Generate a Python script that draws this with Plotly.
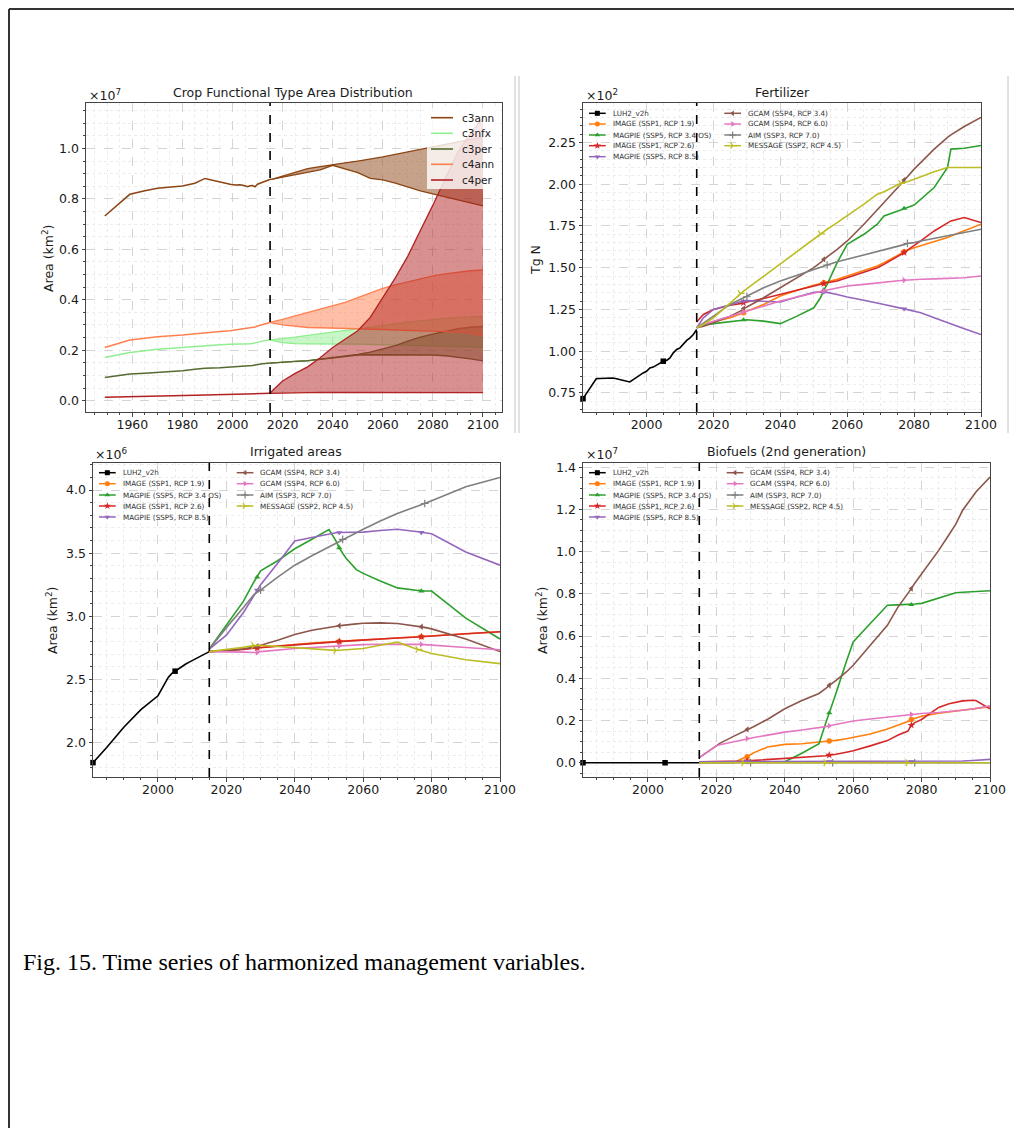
import plotly.graph_objects as go

W, H = 1022, 1136          # browser window (reference pixel frame)
OFF = 8                    # default page margin of the html body
FIG_W, FIG_H = W - 2 * OFF, H - 2 * OFF
R_MARGIN = 16
PAPER_W = FIG_W - R_MARGIN
HARMONIZATION_YEAR = 2015

# ---------------- Panel 1: crop functional types (x1e7 km2) ----------------
CFT_NAMES = ["c3ann", "c3nfx", "c3per", "c4ann", "c4per"]
CFT_COLORS = ["#8B4513", "#90EE90", "#556B2F", "#FF7F50", "#B22222"]
CFT_HIST_YEARS = [1949, 1959, 1965, 1970, 1980, 1985, 1989, 1995, 1999, 2001,
                  2003, 2005, 2006, 2007, 2008, 2009, 2010, 2012, 2015]
C3ANN_HIST = [0.732, 0.818, 0.832, 0.842, 0.851, 0.862, 0.881, 0.866, 0.858, 0.855,
              0.856, 0.852, 0.848, 0.852, 0.853, 0.848, 0.858, 0.866, 0.877]
C3NFX_HIST = [0.171, 0.191, 0.198, 0.204, 0.211, 0.215, 0.220, 0.222, 0.224, 0.224,
              0.225, 0.226, 0.226, 0.226, 0.227, 0.228, 0.231, 0.236, 0.241]
C3PER_HIST = [0.092, 0.106, 0.109, 0.112, 0.119, 0.124, 0.128, 0.130, 0.132, 0.133,
              0.135, 0.136, 0.137, 0.137, 0.139, 0.141, 0.143, 0.146, 0.149]
C4ANN_HIST = [0.211, 0.240, 0.247, 0.253, 0.260, 0.265, 0.270, 0.274, 0.277, 0.280,
              0.283, 0.286, 0.287, 0.288, 0.290, 0.292, 0.296, 0.302, 0.310]
C4PER_HIST = [0.013, 0.016, 0.017, 0.018, 0.020, 0.021, 0.022, 0.023, 0.024, 0.024,
              0.025, 0.025, 0.026, 0.026, 0.026, 0.027, 0.027, 0.028, 0.029]

CFT_FUT_YEARS = [2015, 2016, 2020, 2025, 2030, 2035, 2040, 2045, 2050, 2055,
                 2060, 2065, 2070, 2075, 2080, 2085, 2090, 2095, 2100]
C3ANN_LOW = [0.877, 0.878, 0.886, 0.895, 0.903, 0.915, 0.933, 0.920, 0.904, 0.881,
             0.875, 0.862, 0.846, 0.832, 0.820, 0.808, 0.796, 0.784, 0.772]
C3ANN_HIGH = [0.877, 0.878, 0.890, 0.905, 0.920, 0.928, 0.937, 0.943, 0.950, 0.957,
              0.966, 0.976, 0.986, 0.996, 1.005, 1.015, 1.025, 1.035, 1.046]
C3NFX_LOW = [0.241, 0.238, 0.230, 0.226, 0.225, 0.224, 0.224, 0.224, 0.224, 0.223,
             0.222, 0.221, 0.220, 0.218, 0.217, 0.216, 0.215, 0.213, 0.211]
C3NFX_HIGH = [0.241, 0.242, 0.246, 0.252, 0.259, 0.265, 0.271, 0.278, 0.284, 0.291,
              0.297, 0.304, 0.311, 0.317, 0.322, 0.326, 0.330, 0.332, 0.334]
C3PER_LOW = [0.149, 0.150, 0.153, 0.156, 0.158, 0.164, 0.171, 0.177, 0.181, 0.182,
             0.182, 0.182, 0.182, 0.182, 0.181, 0.178, 0.173, 0.166, 0.158]
C3PER_HIGH = [0.149, 0.150, 0.153, 0.156, 0.159, 0.165, 0.172, 0.178, 0.183, 0.192,
              0.204, 0.218, 0.236, 0.252, 0.264, 0.276, 0.285, 0.291, 0.294]
C4ANN_LOW = [0.310, 0.307, 0.300, 0.294, 0.290, 0.289, 0.288, 0.286, 0.284, 0.283,
             0.282, 0.280, 0.279, 0.277, 0.276, 0.274, 0.272, 0.268, 0.257]
C4ANN_HIGH = [0.310, 0.312, 0.322, 0.336, 0.349, 0.362, 0.376, 0.390, 0.408, 0.427,
              0.445, 0.459, 0.472, 0.485, 0.495, 0.503, 0.510, 0.515, 0.518]
C4PER_LOW = [0.029, 0.029, 0.030, 0.031, 0.032, 0.033, 0.033, 0.033, 0.033, 0.033,
             0.033, 0.033, 0.033, 0.033, 0.033, 0.033, 0.033, 0.032, 0.032]
C4PER_HIGH = [0.029, 0.040, 0.078, 0.108, 0.134, 0.170, 0.211, 0.243, 0.277, 0.330,
              0.409, 0.487, 0.573, 0.671, 0.775, 0.882, 0.985, 1.060, 1.121]

CFT_HIST = [C3ANN_HIST, C3NFX_HIST, C3PER_HIST, C4ANN_HIST, C4PER_HIST]
CFT_LOW = [C3ANN_LOW, C3NFX_LOW, C3PER_LOW, C4ANN_LOW, C4PER_LOW]
CFT_HIGH = [C3ANN_HIGH, C3NFX_HIGH, C3PER_HIGH, C4ANN_HIGH, C4PER_HIGH]

# ---------------- Scenario styling (panels 2-4) ----------------
HIST_NAME = "LUH2_v2h"
SCEN_NAMES = ["IMAGE (SSP1, RCP 1.9)", "MAGPIE (SSP5, RCP 3.4 OS)", "IMAGE (SSP1, RCP 2.6)",
              "MAGPIE (SSP5, RCP 8.5)", "GCAM (SSP4, RCP 3.4)", "GCAM (SSP4, RCP 6.0)",
              "AIM (SSP3, RCP 7.0)", "MESSAGE (SSP2, RCP 4.5)"]
SCEN_COLORS = ["#ff7f0e", "#2ca02c", "#d62728", "#9467bd", "#8c564b", "#e377c2",
               "#7f7f7f", "#bcbd22"]
SCEN_SYMBOLS = ["circle", "triangle-up", "star", "triangle-down", "triangle-left",
                "triangle-right", "cross-thin", "y-right"]
SCEN_MARKER_YEARS = [[2029, 2053, 2077], [2029, 2053, 2077], [2029, 2053, 2077],
                     [2029, 2053, 2077], [2029, 2053, 2077], [2029, 2053, 2077],
                     [2030, 2054, 2078], [2028, 2052, 2076]]
HIST_MARKER_YEARS = [1981, 2005]

# ---------------- Panel 2: fertilizer (x1e2 Tg N) ----------------
FERT_HIST_YEARS = list(range(1981, 2016))
FERT_LUH2 = [0.716, 0.746, 0.776, 0.806, 0.836, 0.837, 0.838, 0.838, 0.840, 0.840,
             0.835, 0.830, 0.825, 0.820, 0.816, 0.830, 0.845, 0.856, 0.870, 0.880,
             0.900, 0.905, 0.915, 0.925, 0.940, 0.945, 0.960, 0.990, 1.010, 1.020,
             1.045, 1.065, 1.080, 1.100, 1.130]
FERT_FUT_YEARS = [2015, 2017, 2020, 2025, 2028, 2029, 2030, 2035, 2040, 2045, 2050,
                  2052, 2053, 2054, 2057, 2060, 2065, 2069, 2071, 2076, 2077, 2078,
                  2080, 2082, 2086, 2090, 2091, 2095, 2100]
FERT_IMAGE19 = [1.14, 1.155, 1.175, 1.20, 1.22, 1.23, 1.24, 1.28, 1.33, 1.365, 1.395,
                1.405, 1.41, 1.415, 1.43, 1.45, 1.485, 1.51, 1.53, 1.585, 1.595, 1.605,
                1.62, 1.632, 1.655, 1.68, 1.69, 1.72, 1.76]
FERT_MAGPIE34 = [1.14, 1.155, 1.165, 1.175, 1.185, 1.187, 1.188, 1.18, 1.165, 1.21, 1.26,
                 1.32, 1.366, 1.40, 1.53, 1.64, 1.70, 1.76, 1.81, 1.845, 1.855, 1.86,
                 1.875, 1.91, 1.98, 2.10, 2.21, 2.215, 2.232]
FERT_IMAGE26 = [1.175, 1.22, 1.25, 1.275, 1.285, 1.29, 1.295, 1.315, 1.34, 1.365, 1.39,
                1.40, 1.405, 1.41, 1.42, 1.44, 1.475, 1.50, 1.52, 1.575, 1.59, 1.605,
                1.63, 1.66, 1.72, 1.77, 1.78, 1.80, 1.77]
FERT_MAGPIE85 = [1.14, 1.20, 1.25, 1.28, 1.295, 1.30, 1.303, 1.30, 1.295, 1.325, 1.352,
                 1.355, 1.355, 1.352, 1.34, 1.325, 1.305, 1.29, 1.28, 1.258, 1.254, 1.25,
                 1.24, 1.23, 1.20, 1.17, 1.163, 1.135, 1.10]
FERT_GCAM34 = [1.14, 1.15, 1.17, 1.21, 1.24, 1.255, 1.265, 1.32, 1.38, 1.435, 1.50,
               1.53, 1.55, 1.565, 1.61, 1.66, 1.76, 1.85, 1.89, 2.00, 2.025, 2.045,
               2.09, 2.13, 2.21, 2.28, 2.295, 2.345, 2.40]
FERT_GCAM60 = [1.14, 1.16, 1.18, 1.21, 1.23, 1.236, 1.24, 1.27, 1.30, 1.325, 1.35,
               1.357, 1.362, 1.366, 1.378, 1.39, 1.40, 1.41, 1.415, 1.423, 1.425, 1.427,
               1.43, 1.431, 1.433, 1.435, 1.436, 1.44, 1.45]
FERT_AIM = [1.14, 1.17, 1.21, 1.28, 1.31, 1.32, 1.326, 1.38, 1.42, 1.455, 1.49,
            1.505, 1.51, 1.516, 1.535, 1.55, 1.575, 1.595, 1.605, 1.632, 1.638, 1.645,
            1.65, 1.66, 1.675, 1.69, 1.695, 1.71, 1.73]
FERT_MESSAGE = [1.14, 1.16, 1.20, 1.29, 1.346, 1.36, 1.375, 1.45, 1.52, 1.595, 1.67,
                1.702, 1.715, 1.73, 1.77, 1.81, 1.88, 1.94, 1.955, 2.005, 2.01, 2.015,
                2.03, 2.045, 2.075, 2.10, 2.10, 2.10, 2.10]

# ---------------- Panel 3: irrigated areas (x1e6 km2) ----------------
IRR_HIST_YEARS = [1981, 1985, 1990, 1995, 2000, 2001, 2002, 2003, 2004, 2005,
                  2006, 2007, 2008, 2009, 2010, 2011, 2012, 2013, 2014, 2015]
IRR_LUH2 = [1.84, 1.96, 2.12, 2.26, 2.37, 2.42, 2.47, 2.515, 2.545, 2.565,
            2.58, 2.60, 2.62, 2.635, 2.65, 2.66, 2.675, 2.69, 2.705, 2.72]
IRR_FUT_YEARS = [2015, 2020, 2025, 2028, 2029, 2030, 2035, 2040, 2045, 2050, 2052, 2053,
                 2054, 2055, 2058, 2060, 2065, 2070, 2076, 2077, 2078, 2080, 2090, 2100]
IRR_IMAGE19 = [2.72, 2.73, 2.74, 2.75, 2.753, 2.755, 2.765, 2.775, 2.787, 2.797, 2.80, 2.80,
               2.802, 2.804, 2.81, 2.813, 2.82, 2.828, 2.836, 2.837, 2.84, 2.845, 2.86, 2.877]
IRR_MAGPIE34 = [2.74, 2.93, 3.12, 3.27, 3.31, 3.36, 3.44, 3.535, 3.61, 3.688, 3.60, 3.543,
                3.50, 3.46, 3.37, 3.34, 3.28, 3.225, 3.205, 3.20, 3.20, 3.20, 2.985, 2.82]
IRR_IMAGE26 = [2.72, 2.728, 2.738, 2.747, 2.75, 2.753, 2.763, 2.773, 2.785, 2.795, 2.799, 2.80,
               2.801, 2.803, 2.809, 2.812, 2.82, 2.828, 2.836, 2.838, 2.84, 2.845, 2.862, 2.877]
IRR_MAGPIE85 = [2.74, 2.85, 3.03, 3.16, 3.207, 3.25, 3.42, 3.596, 3.625, 3.655, 3.662, 3.664,
                3.665, 3.665, 3.665, 3.667, 3.68, 3.69, 3.67, 3.665, 3.66, 3.654, 3.51, 3.405]
IRR_GCAM34 = [2.72, 2.725, 2.74, 2.755, 2.763, 2.77, 2.81, 2.855, 2.89, 2.915, 2.921, 2.925,
              2.928, 2.932, 2.94, 2.945, 2.948, 2.943, 2.922, 2.917, 2.912, 2.90, 2.82, 2.72]
IRR_GCAM60 = [2.72, 2.72, 2.716, 2.713, 2.713, 2.72, 2.735, 2.745, 2.752, 2.76, 2.763, 2.765,
              2.767, 2.768, 2.772, 2.775, 2.778, 2.78, 2.778, 2.777, 2.775, 2.772, 2.753, 2.735]
IRR_AIM = [2.74, 2.91, 3.07, 3.17, 3.19, 3.207, 3.31, 3.405, 3.48, 3.55, 3.58, 3.595,
           3.61, 3.625, 3.665, 3.69, 3.755, 3.815, 3.875, 3.885, 3.894, 3.915, 4.026, 4.10]
IRR_MESSAGE = [2.72, 2.735, 2.755, 2.767, 2.768, 2.77, 2.76, 2.75, 2.74, 2.732, 2.73, 2.731,
               2.733, 2.735, 2.742, 2.745, 2.77, 2.795, 2.737, 2.728, 2.72, 2.705, 2.655, 2.625]

# ---------------- Panel 4: 2nd generation biofuels (x1e7 km2) ----------------
BIO_HIST_YEARS = [1981, 2005, 2015]
BIO_LUH2 = [0.0, 0.0, 0.0]
BIO_FUT_YEARS = [2015, 2020, 2021, 2025, 2027, 2028, 2029, 2030, 2031, 2035, 2040,
                 2045, 2050, 2052, 2053, 2054, 2055, 2058, 2060, 2065, 2070, 2073,
                 2076, 2077, 2078, 2080, 2085, 2088, 2090, 2092, 2095, 2096, 2100]
BIO_IMAGE19 = [0.0, 0.0, 0.0, 0.0, 0.015, 0.022, 0.028, 0.038, 0.048, 0.075, 0.087,
               0.090, 0.098, 0.101, 0.103, 0.104, 0.106, 0.114, 0.120, 0.136, 0.160, 0.178,
               0.195, 0.205, 0.210, 0.220, 0.235, 0.241, 0.245, 0.249, 0.255, 0.257, 0.265]
BIO_MAGPIE34 = [0.004, 0.004, 0.004, 0.004, 0.004, 0.004, 0.004, 0.004, 0.004, 0.004, 0.005,
                0.045, 0.090, 0.190, 0.236, 0.280, 0.330, 0.480, 0.572, 0.660, 0.746, 0.748,
                0.749, 0.749, 0.752, 0.755, 0.780, 0.795, 0.805, 0.808, 0.811, 0.812, 0.815]
BIO_IMAGE26 = [0.005, 0.005, 0.005, 0.006, 0.007, 0.008, 0.009, 0.010, 0.010, 0.013, 0.020,
               0.025, 0.030, 0.033, 0.036, 0.037, 0.040, 0.050, 0.057, 0.080, 0.105, 0.130,
               0.150, 0.178, 0.190, 0.205, 0.262, 0.280, 0.288, 0.293, 0.296, 0.294, 0.255]
BIO_MAGPIE85 = [0.005, 0.005, 0.005, 0.005, 0.005, 0.005, 0.005, 0.005, 0.005, 0.005, 0.005,
                0.005, 0.005, 0.005, 0.005, 0.005, 0.005, 0.005, 0.005, 0.005, 0.005, 0.005,
                0.005, 0.005, 0.005, 0.005, 0.005, 0.006, 0.006, 0.008, 0.011, 0.012, 0.016]
BIO_GCAM34 = [0.024, 0.080, 0.092, 0.125, 0.140, 0.150, 0.158, 0.165, 0.172, 0.206, 0.256,
              0.295, 0.328, 0.352, 0.367, 0.378, 0.390, 0.430, 0.462, 0.555, 0.651, 0.735,
              0.800, 0.825, 0.850, 0.895, 1.006, 1.080, 1.130, 1.196, 1.260, 1.285, 1.353]
BIO_GCAM60 = [0.024, 0.080, 0.085, 0.100, 0.107, 0.111, 0.115, 0.118, 0.120, 0.131, 0.145,
              0.155, 0.165, 0.171, 0.175, 0.178, 0.182, 0.192, 0.198, 0.207, 0.216, 0.221,
              0.227, 0.229, 0.231, 0.233, 0.238, 0.242, 0.245, 0.249, 0.255, 0.258, 0.270]
BIO_AIM = [0.0, 0.0, 0.0, 0.0, 0.0, 0.0, 0.0, 0.0, 0.0, 0.0, 0.0,
           0.0, 0.0, 0.0, 0.0, 0.0, 0.0, 0.0, 0.0, 0.0, 0.0, 0.0,
           0.0, 0.0, 0.0, 0.0, 0.0, 0.0, 0.0, 0.0, 0.0, 0.0, 0.0]
BIO_MESSAGE = [0.0, 0.0, 0.0, 0.0, 0.0, 0.0, 0.0, 0.0, 0.0, 0.0, 0.0,
               0.0, 0.0, 0.0, 0.0, 0.0, 0.0, 0.0, 0.0, 0.0, 0.0, 0.0,
               0.0, 0.0, 0.0, 0.0, 0.0, 0.0, 0.0, 0.0, 0.0, 0.0, 0.0]

FERT_SCEN = [FERT_IMAGE19, FERT_MAGPIE34, FERT_IMAGE26, FERT_MAGPIE85,
             FERT_GCAM34, FERT_GCAM60, FERT_AIM, FERT_MESSAGE]
IRR_SCEN = [IRR_IMAGE19, IRR_MAGPIE34, IRR_IMAGE26, IRR_MAGPIE85,
            IRR_GCAM34, IRR_GCAM60, IRR_AIM, IRR_MESSAGE]
BIO_SCEN = [BIO_IMAGE19, BIO_MAGPIE34, BIO_IMAGE26, BIO_MAGPIE85,
            BIO_GCAM34, BIO_GCAM60, BIO_AIM, BIO_MESSAGE]

# ---------------- Layout geometry (window pixels) ----------------
FRAME = "#444444"
FONT = "DejaVu Sans"
TXT = "#1a1a1a"
PANEL_BOX = {1: (86, 502, 103, 412), 2: (583, 981, 103, 412),
             3: (93, 500, 463, 777), 4: (583, 990, 463, 777)}


def fx(x):
    return (x - OFF) / PAPER_W


def fy(y):
    return 1 - (y - OFF) / FIG_H


def rgba(hexc, a):
    h = hexc.lstrip("#")
    return "rgba(%d,%d,%d,%s)" % (int(h[0:2], 16), int(h[2:4], 16), int(h[4:6], 16), a)


def ax_ids(k):
    return ("x", "y") if k == 1 else ("x%d" % k, "y%d" % k)


fig = go.Figure()

# ---- Panel 1 traces ----
for name, col, hist, low, high in zip(CFT_NAMES, CFT_COLORS, CFT_HIST, CFT_LOW, CFT_HIGH):
    fig.add_trace(go.Scatter(x=CFT_HIST_YEARS, y=hist, mode="lines", name=name,
                             line=dict(color=col, width=1.5), showlegend=False,
                             xaxis="x", yaxis="y"))
    fig.add_trace(go.Scatter(x=CFT_FUT_YEARS, y=low, mode="lines",
                             line=dict(color=col, width=1.3), showlegend=False,
                             xaxis="x", yaxis="y"))
    fig.add_trace(go.Scatter(x=CFT_FUT_YEARS, y=high, mode="lines", fill="tonexty",
                             fillcolor=rgba(col, 0.5),
                             line=dict(color=col, width=1.3), showlegend=False,
                             xaxis="x", yaxis="y"))


def pick(years, vals, sel):
    xs = [yr for yr in years if yr in sel]
    ys = [v for yr, v in zip(years, vals) if yr in sel]
    return xs, ys


def marker_style(sym, col, size=5.5):
    m = dict(symbol=sym, size=size, color=col, line=dict(width=0, color=col))
    if sym in ("cross-thin", "y-right"):
        m["line"] = dict(width=1.2, color=col)
    if sym == "star":
        m["size"] = size + 0.5
    return m


def scenario_panel(k, hist_years, hist_vals, fut_years, scen_vals):
    xa, ya = ax_ids(k)
    fig.add_trace(go.Scatter(x=hist_years, y=hist_vals, mode="lines", name=HIST_NAME,
                             line=dict(color="black", width=1.6), showlegend=False,
                             xaxis=xa, yaxis=ya))
    mx, my = pick(hist_years, hist_vals, HIST_MARKER_YEARS)
    fig.add_trace(go.Scatter(x=mx, y=my, mode="markers", showlegend=False,
                             marker=marker_style("square", "black"), xaxis=xa, yaxis=ya,
                             cliponaxis=False))
    for name, col, sym, myears, vals in zip(SCEN_NAMES, SCEN_COLORS, SCEN_SYMBOLS,
                                            SCEN_MARKER_YEARS, scen_vals):
        fig.add_trace(go.Scatter(x=fut_years, y=vals, mode="lines", name=name,
                                 line=dict(color=col, width=1.6), showlegend=False,
                                 xaxis=xa, yaxis=ya))
        mx, my = pick(fut_years, vals, myears)
        fig.add_trace(go.Scatter(x=mx, y=my, mode="markers", showlegend=False,
                                 marker=marker_style(sym, col), xaxis=xa, yaxis=ya))


scenario_panel(2, FERT_HIST_YEARS, FERT_LUH2, FERT_FUT_YEARS, FERT_SCEN)
scenario_panel(3, IRR_HIST_YEARS, IRR_LUH2, IRR_FUT_YEARS, IRR_SCEN)
scenario_panel(4, BIO_HIST_YEARS, BIO_LUH2, BIO_FUT_YEARS, BIO_SCEN)


# ---- Axes ----
def axis_cfg(k, is_x, rng, dtick, tick0, minor_dtick, fmt=None):
    x0, x1, y0, y1 = PANEL_BOX[k]
    dom = [fx(x0), fx(x1)] if is_x else [fy(y1), fy(y0)]
    xa, ya = ax_ids(k)
    d = dict(domain=dom, range=rng, dtick=dtick, tick0=tick0, anchor=ya if is_x else xa,
             showline=True, mirror=True, linecolor=FRAME, linewidth=1,
             ticks="outside", ticklen=3.5, tickwidth=0.8, tickcolor=FRAME,
             showgrid=True, gridcolor="#d4d4d4", griddash="dash", gridwidth=0.7,
             zeroline=False, fixedrange=True, automargin=False,
             ticklabelstandoff=-3 if is_x else 0,
             tickfont=dict(family=FONT, size=12.5, color=TXT),
             minor=dict(dtick=minor_dtick, tick0=tick0, ticks="outside", ticklen=2,
                        tickwidth=0.6, tickcolor=FRAME, showgrid=True,
                        gridcolor="#ececec", griddash="dot", gridwidth=0.6))
    if fmt:
        d["tickformat"] = fmt
    return d


layout_axes = {
    "xaxis": axis_cfg(1, True, [1941.5, 2107.6], 20, 1960, 5),
    "yaxis": axis_cfg(1, False, [-0.045, 1.18], 0.2, 0, 0.05, ".1f"),
    "xaxis2": axis_cfg(2, True, [1981, 2100], 20, 2000, 5),
    "yaxis2": axis_cfg(2, False, [0.636, 2.486], 0.25, 0.75, 0.05, ".2f"),
    "xaxis3": axis_cfg(3, True, [1981, 2100], 20, 2000, 5),
    "yaxis3": axis_cfg(3, False, [1.726, 4.215], 0.5, 2.0, 0.1, ".1f"),
    "xaxis4": axis_cfg(4, True, [1981, 2100], 20, 2000, 5),
    "yaxis4": axis_cfg(4, False, [-0.0675, 1.42], 0.2, 0, 0.05, ".1f"),
    # full-figure pixel frame used only for the legend glyphs
    "xaxis5": dict(domain=[0, 1], range=[OFF, OFF + PAPER_W], visible=False,
                   anchor="y5", fixedrange=True),
    "yaxis5": dict(domain=[0, 1], range=[OFF + FIG_H, OFF], visible=False,
                   anchor="x5", fixedrange=True),
}

shapes = []
annotations = []

# harmonization-year dashed lines
for k in range(1, 5):
    xa, ya = ax_ids(k)
    shapes.append(dict(type="line", xref=xa, yref=ya + " domain", x0=HARMONIZATION_YEAR,
                       x1=HARMONIZATION_YEAR, y0=0, y1=1, layer="above",
                       line=dict(color="black", width=1.6, dash="dash")))

# page decorations
shapes.append(dict(type="line", xref="paper", yref="paper", x0=fx(9), x1=fx(1030),
                   y0=fy(9), y1=fy(9), line=dict(color="#333333", width=2)))
shapes.append(dict(type="line", xref="paper", yref="paper", x0=fx(9), x1=fx(9),
                   y0=fy(9), y1=fy(1140), line=dict(color="#333333", width=2)))
for sx in (515, 519, 1008):
    shapes.append(dict(type="line", xref="paper", yref="paper", x0=fx(sx), x1=fx(sx),
                       y0=fy(76), y1=fy(433), line=dict(color="#c4c4c4", width=1)))

# titles, offset labels, y labels
TITLES = [("Crop Functional Type Area Distribution", 293, 93),
          ("Fertilizer", 782, 93),
          ("Irrigated areas", 296, 452),
          ("Biofuels (2nd generation)", 786, 452)]
for t, x, y in TITLES:
    annotations.append(dict(text=t, x=fx(x), y=fy(y), xref="paper", yref="paper",
                            showarrow=False, xanchor="center", yanchor="middle",
                            font=dict(family=FONT, size=12.5, color=TXT)))
OFFSETS = [("×10<sup>7</sup>", 87, 95), ("×10<sup>2</sup>", 584, 95),
           ("×10<sup>6</sup>", 93, 454), ("×10<sup>7</sup>", 584, 454)]
for t, x, y in OFFSETS:
    annotations.append(dict(text=t, x=fx(x), y=fy(y), xref="paper", yref="paper",
                            showarrow=False, xanchor="left", yanchor="middle",
                            font=dict(family=FONT, size=12.5, color=TXT)))
YLABELS = [("Area (km<sup>2</sup>)", 48, 258), ("Tg N", 536, 260),
           ("Area (km<sup>2</sup>)", 52, 620), ("Area (km<sup>2</sup>)", 542, 620)]
for t, x, y in YLABELS:
    annotations.append(dict(text=t, x=fx(x), y=fy(y), xref="paper", yref="paper",
                            showarrow=False, xanchor="center", yanchor="middle",
                            textangle=-90, font=dict(family=FONT, size=12.5, color=TXT)))

# ---- Panel 1 legend (compact rows, drawn manually) ----
shapes.append(dict(type="rect", xref="paper", yref="paper", layer="above",
                   x0=fx(427), x1=fx(497), y0=fy(108), y1=fy(189),
                   fillcolor="rgba(255,255,255,0.8)", line=dict(width=0)))
L1_ROWS = [117.7, 133.3, 149.0, 164.3, 180.0]
for name, col, ry in zip(CFT_NAMES, CFT_COLORS, L1_ROWS):
    shapes.append(dict(type="line", xref="paper", yref="paper", layer="above",
                       x0=fx(431), x1=fx(453), y0=fy(ry), y1=fy(ry),
                       line=dict(color=col, width=1.6)))
    annotations.append(dict(text=name, x=fx(460), y=fy(ry), xref="paper", yref="paper",
                            showarrow=False, xanchor="left", yanchor="middle",
                            font=dict(family=FONT, size=10.5, color=TXT)))

# ---- Panels 2-4 legends ----
LEG_NAMES = [HIST_NAME] + SCEN_NAMES
LEG_COLORS = ["black"] + SCEN_COLORS
LEG_SYMBOLS = ["square"] + SCEN_SYMBOLS
LEG_GEOM = [  # (col1 handle x0, col1 text x, col2 handle x0, col2 text x, rows)
    (589, 610.7, 724.3, 745.7, [113.3, 124.0, 135.0, 145.7, 156.7]),
    (99, 120.7, 236.7, 258.3, [472.7, 483.7, 495.0, 506.0, 517.0]),
    (589, 610.7, 726.7, 748.3, [472.7, 483.7, 495.0, 506.0, 517.0]),
]
for c1x, c1t, c2x, c2t, rows in LEG_GEOM:
    for i, (name, col, sym) in enumerate(zip(LEG_NAMES, LEG_COLORS, LEG_SYMBOLS)):
        if i < 5:
            hx, tx, ry = c1x, c1t, rows[i]
        else:
            hx, tx, ry = c2x, c2t, rows[i - 5]
        fig.add_trace(go.Scatter(x=[hx, hx + 16.7], y=[ry, ry], mode="lines",
                                 line=dict(color=col, width=1.5), showlegend=False,
                                 hoverinfo="skip", xaxis="x5", yaxis="y5"))
        fig.add_trace(go.Scatter(x=[hx + 8.35], y=[ry], mode="markers", showlegend=False,
                                 marker=marker_style(sym, col, 5), hoverinfo="skip",
                                 xaxis="x5", yaxis="y5"))
        annotations.append(dict(text=name, x=fx(tx), y=fy(ry), xref="paper", yref="paper",
                                showarrow=False, xanchor="left", yanchor="middle",
                                font=dict(family=FONT, size=7.2, color="#333333")))

# caption
annotations.append(dict(text="Fig. 15. Time series of harmonized management variables.",
                        x=fx(21), y=fy(962), xref="paper", yref="paper", showarrow=False,
                        xanchor="left", yanchor="middle",
                        font=dict(family="Liberation Serif", size=24, color="black")))

fig.update_layout(width=FIG_W, height=FIG_H, autosize=False,
                  margin=dict(l=0, r=R_MARGIN, t=0, b=0, autoexpand=False),
                  paper_bgcolor="white", plot_bgcolor="rgba(0,0,0,0)", showlegend=False,
                  font=dict(family=FONT, color=TXT), shapes=shapes,
                  annotations=annotations, **layout_axes)

fig.write_html("out.html")
